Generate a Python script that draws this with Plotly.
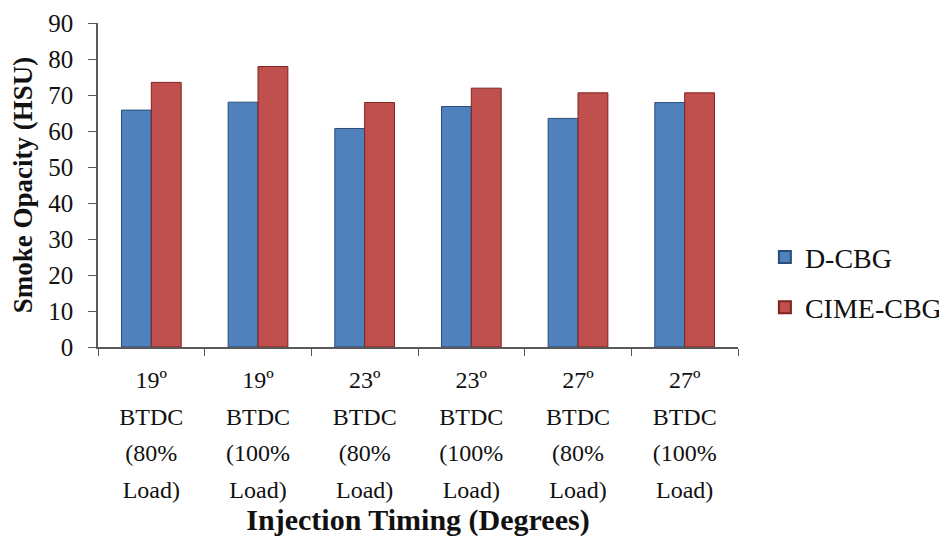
import plotly.graph_objects as go

lines = [["19º", "BTDC", "(80%", "Load)"], ["19º", "BTDC", "(100%", "Load)"],
         ["23º", "BTDC", "(80%", "Load)"], ["23º", "BTDC", "(100%", "Load)"],
         ["27º", "BTDC", "(80%", "Load)"], ["27º", "BTDC", "(100%", "Load)"]]
categories = ["c1", "c2", "c3", "c4", "c5", "c6"]
d_cbg = [65.8, 68, 60.7, 66.8, 63.5, 67.9]
cime_cbg = [73.5, 77.9, 67.9, 71.9, 70.6, 70.6]
y_ticks = [0, 10, 20, 30, 40, 50, 60, 70, 80, 90]

tick_text = ["<br>".join("<span style='font-size:24px'>%s</span>" % s for s in ls) for ls in lines]

font_family = "Liberation Serif, DejaVu Serif, serif"

fig = go.Figure()
fig.add_trace(go.Bar(name="D-CBG", x=categories, y=d_cbg, legendgroup="a",
                     marker=dict(color="#4F81BD", line=dict(color="#2C4D7A", width=1))))
fig.add_trace(go.Bar(name="CIME-CBG", x=categories, y=cime_cbg, legendgroup="b",
                     marker=dict(color="#C0504D", line=dict(color="#7F2220", width=1))))

fig.update_layout(
    width=939, height=529,
    margin=dict(l=90, r=209, t=15, b=190, autoexpand=False),
    paper_bgcolor="white", plot_bgcolor="white",
    barmode="group", bargap=0.44, bargroupgap=0,
    font=dict(family=font_family, size=22, color="#111111"),
    legend=dict(x=1.042, y=0.2, xanchor="left", yanchor="middle",
                traceorder="grouped", tracegroupgap=11,
                font=dict(size=28), itemsizing="constant"),
    xaxis=dict(
        tickmode="array", tickvals=categories, ticktext=tick_text,
        tickson="boundaries", ticks="outside", ticklen=7, tickcolor="#595959",
        showline=True, linecolor="#595959", linewidth=1.5,
        tickfont=dict(size=28), ticklabelstandoff=6, automargin=False,
        title=dict(text="<b>Injection Timing (Degrees)</b>", font=dict(size=30), standoff=4),
    ),
    yaxis=dict(
        range=[0, 90], tickvals=y_ticks, ticks="outside", ticklen=8, tickcolor="#595959",
        showline=True, linecolor="#595959", linewidth=1.5, showgrid=False, zeroline=False,
        tickfont=dict(size=25), ticklabelstandoff=10, automargin=False,
        title=dict(text="<b>Smoke Opacity (HSU)</b>", font=dict(size=27), standoff=10),
    ),
)

fig.write_html("out.html")
